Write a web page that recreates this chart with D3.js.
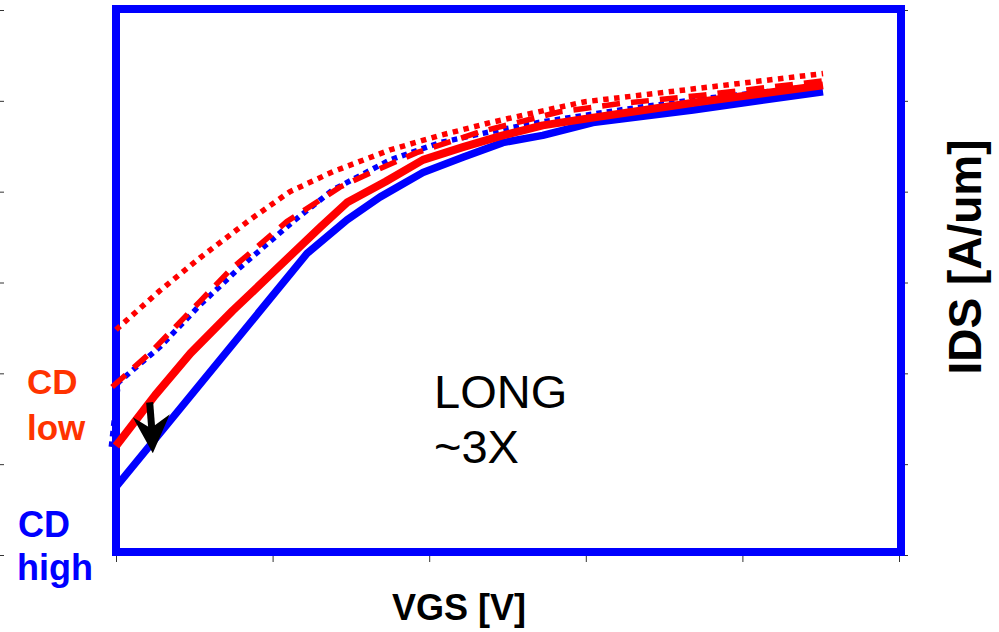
<!DOCTYPE html>
<html>
<head>
<meta charset="utf-8">
<script src="https://cdn.jsdelivr.net/npm/d3@7/dist/d3.min.js"></script>
<style>
  html, body { margin: 0; padding: 0; background: #fff; }
  svg { display: block; }
  text { font-family: "Liberation Sans", Arial, sans-serif; }
</style>
</head>
<body>
<svg id="chart" width="999" height="632"></svg>
<script>
// VGS in V, IDS in uA/um (axes carry no numeric labels)
const vgsHigh = [0, 0.244, 0.295, 0.337, 0.392, 0.443, 0.494, 0.545, 0.609, 0.737, 0.903];
const idsHigh = [75, 332, 369, 394, 421, 438, 454, 462, 476, 490, 510];

const vgsLow = [0, 0.05, 0.095, 0.149, 0.199, 0.261, 0.295, 0.344, 0.392, 0.443, 0.494, 0.545, 0.605, 0.746, 0.903];
const idsLow = [120, 176, 222, 269, 310, 361, 388, 411, 435, 449, 462, 473, 481, 499, 517];

const vgsHighDot = [-0.006, 0.003, 0.056, 0.107, 0.155, 0.226, 0.277, 0.350, 0.414, 0.478, 0.545, 0.644, 0.746, 0.903];
const idsHighDot = [119, 190, 229, 275, 314, 367, 402, 435, 454, 466, 477, 490, 502, 517];

const vgsLowDash = [-0.005, 0.043, 0.107, 0.146, 0.218, 0.286, 0.328, 0.384, 0.427, 0.465, 0.512, 0.567, 0.644, 0.746, 0.903];
const idsLowDash = [185, 222, 279, 314, 367, 405, 422, 443, 455, 466, 476, 488, 497, 506, 522];

const vgsLowDot = [0, 0.056, 0.107, 0.171, 0.222, 0.277, 0.350, 0.414, 0.478, 0.545, 0.599, 0.746, 0.903];
const idsLowDot = [248, 291, 327, 369, 400, 422, 446, 462, 476, 489, 499, 514, 530];

const xTicks = [0, 0.2, 0.4, 0.6, 0.8, 1.0];
const yTicks = [0, 100, 200, 300, 400, 500, 600];

// arrow annotation: from CD low toward CD high (data coordinates)
const arrowFrom = [0.043, 168];
const arrowTo = [0.047, 112];

const zip = (xs, ys) => xs.map((v, i) => ({ v, i: ys[i] }));

// drawing order: back to front
const series = [
  { key: "highDot", data: zip(vgsHighDot, idsHighDot), color: "#0000ff", width: 5.5, dash: "5.5,5" },
  { key: "lowDot",  data: zip(vgsLowDot, idsLowDot),   color: "#ff0000", width: 5.5, dash: "5.5,5.5" },
  { key: "lowDash", data: zip(vgsLowDash, idsLowDash), color: "#ff0000", width: 5.5, dash: "18,11" },
  { key: "high",    data: zip(vgsHigh, idsHigh),       color: "#0000ff", width: 7.5, dash: null },
  { key: "low",     data: zip(vgsLow, idsLow),         color: "#ff0000", width: 8,   dash: null }
];

const svg = d3.select("#chart");

const x = d3.scaleLinear().domain([0, 1]).range([116, 899]);
const y = d3.scaleLinear().domain([0, 600]).range([555, 10]);

// tick-only axes
const tickStyle = g => {
  g.select(".domain").remove();
  g.selectAll(".tick text").remove();
  g.selectAll(".tick line").attr("stroke", "#333").attr("stroke-width", 1);
};
svg.append("g").attr("transform", "translate(4,0)")
  .call(d3.axisLeft(y).tickValues(yTicks).tickSize(4)).call(tickStyle);
svg.append("g").attr("transform", "translate(903,0)")
  .call(d3.axisRight(y).tickValues(yTicks).tickSize(5)).call(tickStyle);
svg.append("g").attr("transform", "translate(0,556)")
  .call(d3.axisBottom(x).tickValues(xTicks).tickSize(6)).call(tickStyle);

// plot frame
svg.append("rect")
  .attr("x", 116).attr("y", 9)
  .attr("width", 785).attr("height", 543)
  .attr("fill", "none").attr("stroke", "#0000ff").attr("stroke-width", 8);

const line = d3.line().x(d => x(d.v)).y(d => y(d.i)).curve(d3.curveLinear);

svg.append("g").selectAll("path").data(series).join("path")
  .attr("d", d => line(d.data))
  .attr("fill", "none")
  .attr("stroke", d => d.color)
  .attr("stroke-width", d => d.width)
  .attr("stroke-dasharray", d => d.dash)
  .attr("stroke-linejoin", "round");

// arrow
const ax0 = x(arrowFrom[0]), ay0 = y(arrowFrom[1]);
const ax1 = x(arrowTo[0]), ay1 = y(arrowTo[1]);
svg.append("line")
  .attr("x1", ax0).attr("y1", ay0).attr("x2", ax1 - 1).attr("y2", ay1 - 24)
  .attr("stroke", "#000").attr("stroke-width", 7);
svg.append("path")
  .attr("d", `M${ax1},${ay1} L${ax1 - 20},${ay1 - 36} L${ax1 - 2},${ay1 - 25} L${ax1 + 17},${ay1 - 39} Z`)
  .attr("fill", "#000");

// labels
const lowLbl = svg.append("text").attr("fill", "#ff3300").attr("font-weight", "bold").attr("font-size", 35);
lowLbl.append("tspan").attr("x", 27).attr("y", 394).text("CD");
lowLbl.append("tspan").attr("x", 27).attr("y", 440).text("low");

const highLbl = svg.append("text").attr("fill", "#0000ff").attr("font-weight", "bold").attr("font-size", 36);
highLbl.append("tspan").attr("x", 18).attr("y", 537).text("CD");
highLbl.append("tspan").attr("x", 17).attr("y", 580).text("high");

const note = svg.append("text").attr("fill", "#000").attr("font-size", 47);
note.append("tspan").attr("x", 434).attr("y", 408).text("LONG");
note.append("tspan").attr("x", 434).attr("y", 463).text("~3X");

svg.append("text")
  .attr("x", 459).attr("y", 620)
  .attr("text-anchor", "middle")
  .attr("font-weight", "bold").attr("font-size", 36)
  .text("VGS [V]");

svg.append("text")
  .attr("transform", "translate(981,257) rotate(-90)")
  .attr("text-anchor", "middle")
  .attr("font-weight", "bold").attr("font-size", 46)
  .text("IDS [A/um]");
</script>
</body>
</html>
